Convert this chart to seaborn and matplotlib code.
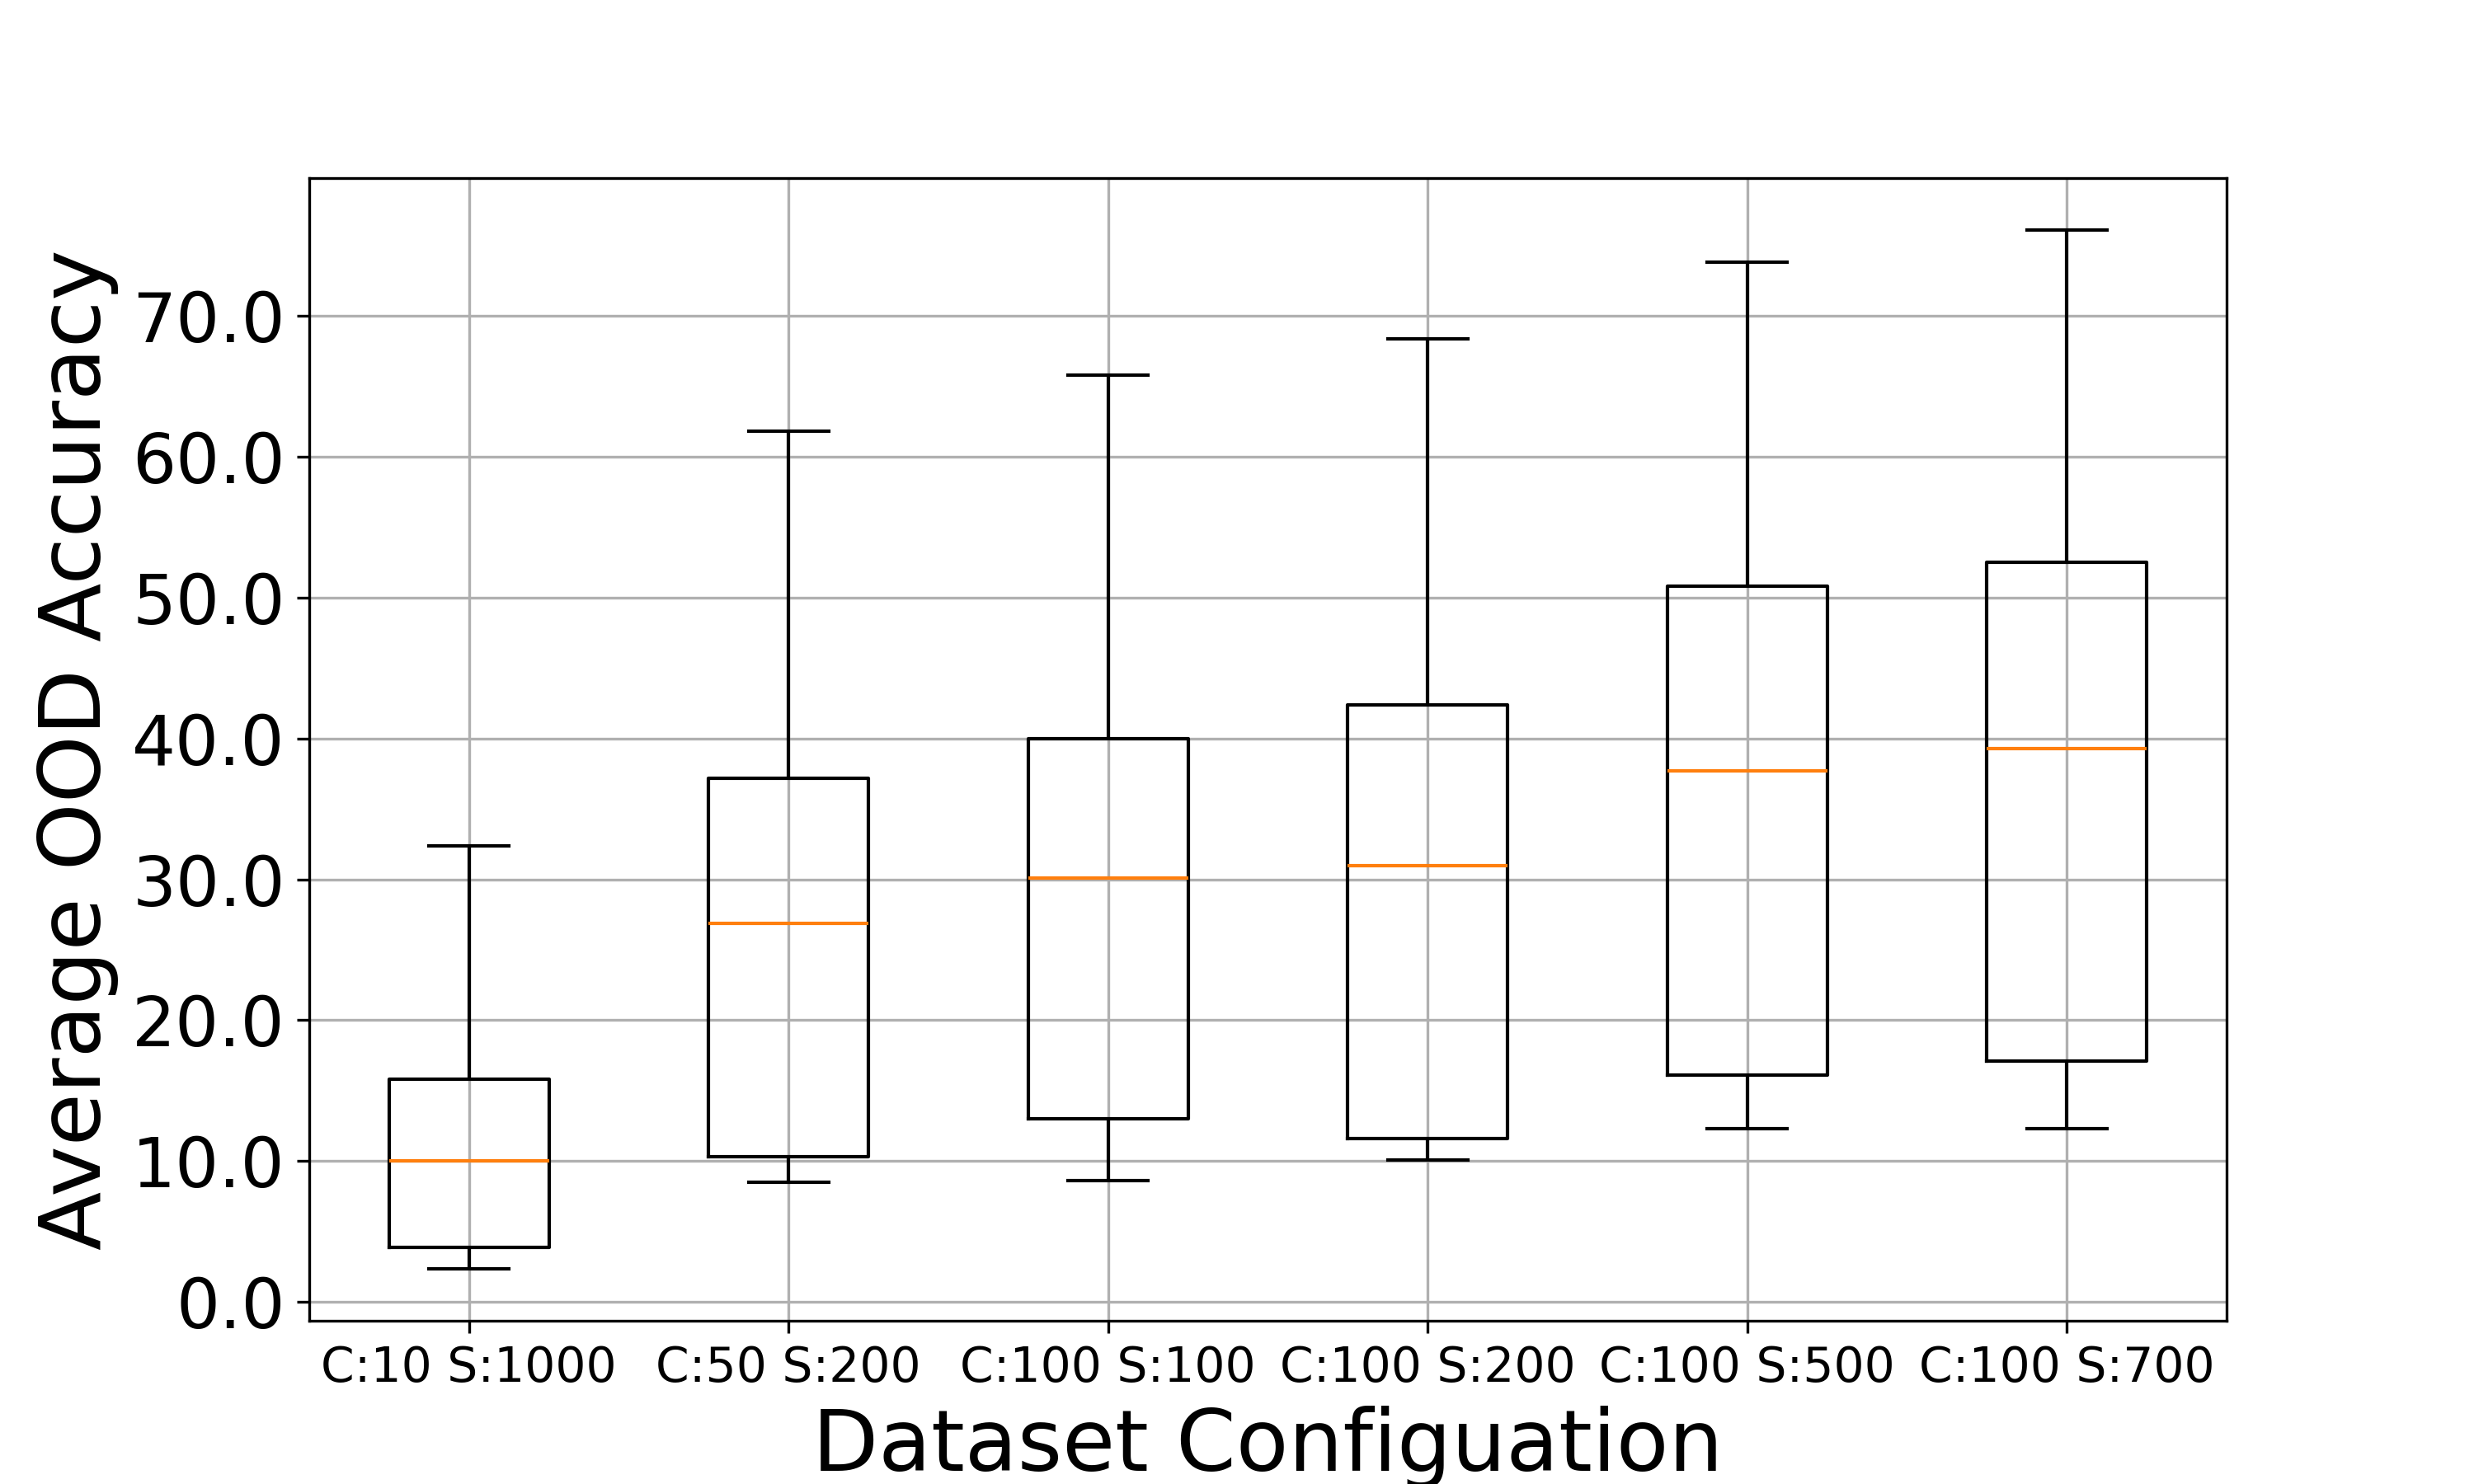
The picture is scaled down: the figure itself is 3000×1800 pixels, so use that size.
import numpy as np
import pandas as pd
import matplotlib
matplotlib.use("Agg")
import matplotlib.pyplot as plt
import seaborn as sns

# box summary: whisker low, q1, median, q3, whisker high
configs = ['C:10 S:1000', 'C:50 S:200', 'C:100 S:100', 'C:100 S:200', 'C:100 S:500', 'C:100 S:700']
whis_low = [2.35, 8.5, 8.6, 10.1, 12.3, 12.3]
q1 = [3.9, 10.3, 13.0, 11.6, 16.1, 17.1]
median = [10.0, 26.9, 30.1, 31.0, 37.7, 39.3]
q3 = [15.8, 37.2, 40.0, 42.4, 50.8, 52.5]
whis_high = [32.4, 61.8, 65.8, 68.4, 73.8, 76.1]

# five points per config give exactly these quartiles
rows = []
for i, c in enumerate(configs):
    for v in [whis_low[i], q1[i], median[i], q3[i], whis_high[i]]:
        rows.append([c, v])
df = pd.DataFrame(rows, columns=['config', 'acc'])

fig, ax = plt.subplots(figsize=(10, 6), dpi=300)

sns.boxplot(data=df, x='config', y='acc', order=configs, ax=ax,
            fill=False, color='black', width=0.5, whis=(0, 100), linewidth=1.0,
            medianprops=dict(color='#ff7f0e', linewidth=1.0),
            capwidths=0.25)

ax.set_xlim(-0.5, 5.5)
ax.grid(True, color='#b0b0b0', linewidth=0.8)
ax.set_axisbelow(True)
for s in ax.spines.values():
    s.set_visible(True)
    s.set_color('black')
    s.set_linewidth(0.8)

ax.set_yticks(np.arange(0, 80, 10))
ax.yaxis.set_major_formatter(matplotlib.ticker.FormatStrFormatter('%.1f'))
ax.tick_params(axis='y', labelsize=20)
ax.tick_params(axis='x', labelsize=14)
ax.set_xlabel('Dataset Configuation', fontsize=25)
ax.set_ylabel('Average OOD Accuracy', fontsize=25)

fig.savefig('out.png', dpi=300)
